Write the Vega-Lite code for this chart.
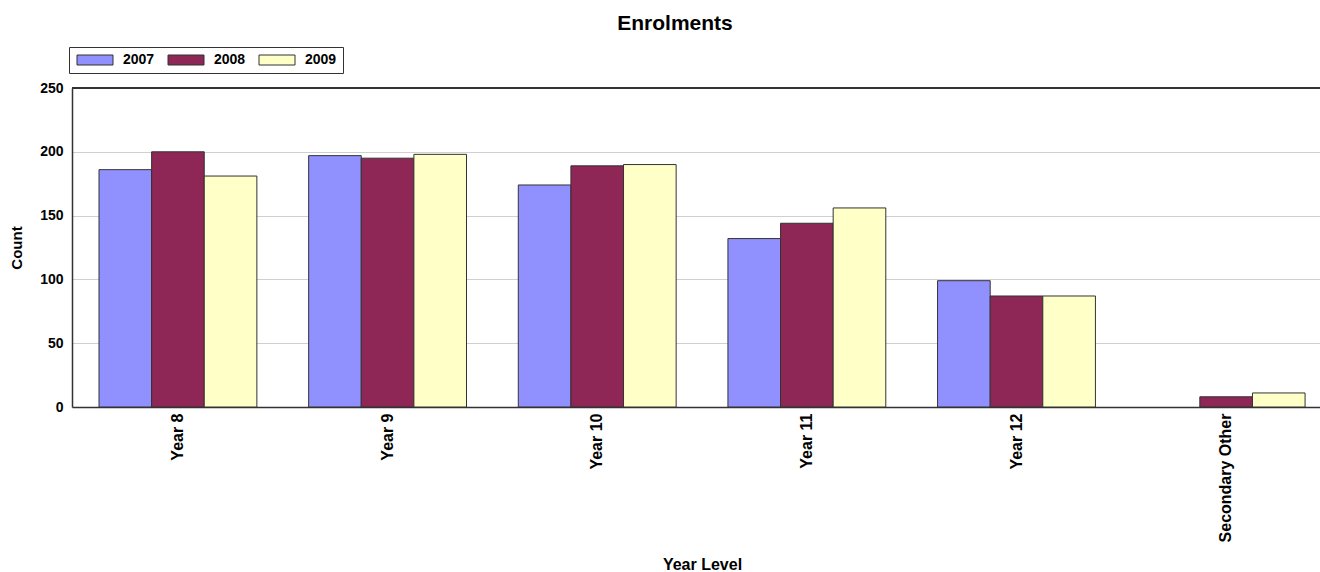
{
  "$schema": "https://vega.github.io/schema/vega-lite/v6.json",
  "autosize": "none",
  "width": 1248,
  "height": 319,
  "padding": {"left": 72, "top": 88, "right": 0, "bottom": 165},
  "background": "white",
  "config": {"font": "Liberation Sans", "view": {"stroke": null}},
  "title": {"text": "Enrolments", "fontSize": 21, "fontWeight": "bold", "color": "#000", "anchor": "middle", "dx": -21, "offset": 13},
  "data": {
    "values": [
      {"level": "Year 8", "year": "2007", "count": 186},
      {"level": "Year 8", "year": "2008", "count": 200},
      {"level": "Year 8", "year": "2009", "count": 181},
      {"level": "Year 9", "year": "2007", "count": 197},
      {"level": "Year 9", "year": "2008", "count": 195},
      {"level": "Year 9", "year": "2009", "count": 198},
      {"level": "Year 10", "year": "2007", "count": 174},
      {"level": "Year 10", "year": "2008", "count": 189},
      {"level": "Year 10", "year": "2009", "count": 190},
      {"level": "Year 11", "year": "2007", "count": 132},
      {"level": "Year 11", "year": "2008", "count": 144},
      {"level": "Year 11", "year": "2009", "count": 156},
      {"level": "Year 12", "year": "2007", "count": 99},
      {"level": "Year 12", "year": "2008", "count": 87},
      {"level": "Year 12", "year": "2009", "count": 87},
      {"level": "Secondary Other", "year": "2008", "count": 8},
      {"level": "Secondary Other", "year": "2009", "count": 11}
    ]
  },
  "layer": [
    {
      "mark": {"type": "bar", "stroke": "#333", "strokeWidth": 1},
      "encoding": {
        "x": {
          "field": "level",
          "type": "nominal",
          "sort": ["Year 8", "Year 9", "Year 10", "Year 11", "Year 12", "Secondary Other"],
          "scale": {"paddingInner": 0.247, "paddingOuter": 0.1, "align": 0.644},
          "title": "Year Level",
          "axis": {
            "labelAngle": 270,
            "labelFontSize": 16,
            "labelFontWeight": "bold",
            "labelColor": "#000",
            "labelPadding": 6,
            "ticks": false,
            "grid": false,
            "domainColor": "#333",
            "domainWidth": 1.5,
            "titleFontSize": 16,
            "titleFontWeight": "bold",
            "titleColor": "#000",
            "titlePadding": 15,
            "titleX": 630
          }
        },
        "xOffset": {
          "field": "year",
          "type": "nominal",
          "scale": {"domain": ["2007", "2008", "2009"], "paddingInner": 0, "paddingOuter": 0}
        },
        "y": {
          "field": "count",
          "type": "quantitative",
          "scale": {"domain": [0, 250], "nice": false},
          "title": "Count",
          "axis": {
            "values": [0, 50, 100, 150, 200, 250],
            "labelFontSize": 14,
            "labelFontWeight": "bold",
            "labelColor": "#000",
            "labelPadding": 9,
            "ticks": false,
            "domainColor": "#333",
            "domainWidth": 1.5,
            "gridColor": "#d0d0d0",
            "titleFontSize": 15,
            "titleFontWeight": "bold",
            "titleColor": "#000",
            "titlePadding": 15
          }
        },
        "color": {
          "field": "year",
          "type": "nominal",
          "scale": {"domain": ["2007", "2008", "2009"], "range": ["#9090FF", "#8E2756", "#FFFFC8"]},
          "legend": {
            "orient": "none",
            "legendX": -3,
            "legendY": -41,
            "direction": "horizontal",
            "title": null,
            "symbolType": "M-1,-1H6.2V1H-1Z",
            "symbolSize": 100,
            "symbolStrokeColor": "#333",
            "symbolStrokeWidth": 1,
            "symbolOpacity": 1,
            "labelFontSize": 14,
            "labelFontWeight": "bold",
            "labelColor": "#000",
            "labelOffset": 34,
            "columnPadding": 11,
            "padding": 6,
            "strokeColor": "#333",
            "fillColor": "white",
            "cornerRadius": 0
          }
        }
      }
    },
    {
      "mark": {"type": "rule", "color": "#333", "strokeWidth": 1.5},
      "encoding": {"y": {"datum": 250}}
    }
  ]
}
